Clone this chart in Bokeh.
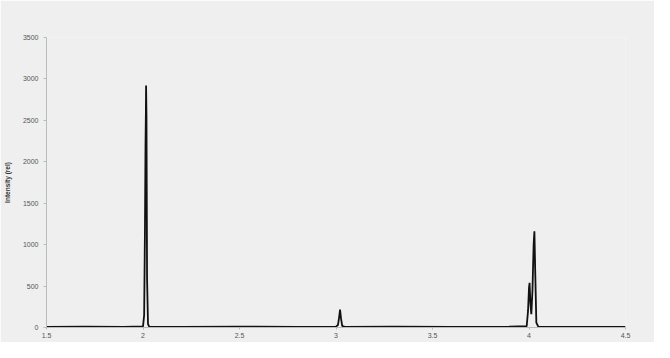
from bokeh.plotting import figure
from bokeh.models import FixedTicker, Range1d, Label
from bokeh.embed import file_html
from bokeh.resources import INLINE

# m/z values and intensities
mz = [1.50, 1.70, 1.90, 2.000, 2.006, 2.010, 2.013, 2.015, 2.016, 2.018, 2.021,
      2.026, 2.032, 2.20, 2.50, 2.80, 3.000, 3.010, 3.016, 3.021, 3.026, 3.032,
      3.045, 3.30, 3.60, 3.90, 3.988, 3.995, 4.000, 4.003, 4.007, 4.012, 4.018,
      4.024, 4.028, 4.032, 4.038, 4.048, 4.20, 4.50]
intensity = [8, 10, 8, 12, 150, 1150, 2200, 2600, 2920, 2550, 600,
             40, 10, 8, 10, 8, 10, 30, 120, 215, 110, 20,
             8, 10, 8, 10, 15, 200, 480, 540, 300, 160, 450,
             1000, 1160, 700, 60, 10, 8, 8]

x_ticks = [1.5, 2.0, 2.5, 3.0, 3.5, 4.0, 4.5]
x_tick_labels = ["1.5", "2", "2.5", "3", "3.5", "4", "4.5"]
y_ticks = [0, 500, 1000, 1500, 2000, 2500, 3000, 3500]
y_tick_labels = ["0", "500", "1000", "1500", "2000", "2500", "3000", "3500"]

BG = "#efefef"
p = figure(width=654, height=342, output_backend="svg", toolbar_location=None,
           x_range=Range1d(1.5, 4.5), y_range=Range1d(0, 3500),
           min_border_left=45, min_border_right=29, min_border_top=37,
           min_border_bottom=15)
p.background_fill_color = BG
p.border_fill_color = BG
p.outline_line_color = None
p.grid.visible = False

p.line(mz, intensity, line_color="#111111", line_width=1.8)

xa = p.xaxis[0]
xa.ticker = FixedTicker(ticks=x_ticks)
xa.major_label_overrides = {t: l for t, l in zip(x_ticks, x_tick_labels)}
xa.axis_line_color = "#bbbbbb"
xa.major_tick_line_color = "#bbbbbb"
xa.major_tick_out = 2
xa.major_tick_in = 0
xa.minor_tick_line_color = None
xa.major_label_text_font_size = "7px"
xa.major_label_text_color = "#555555"
xa.major_label_standoff = 3
xa.axis_label = None

ya = p.yaxis[0]
ya.ticker = FixedTicker(ticks=y_ticks)
ya.major_label_overrides = {t: l for t, l in zip(y_ticks, y_tick_labels)}
ya.axis_line_color = "#bbbbbb"
ya.major_tick_line_color = "#bbbbbb"
ya.major_tick_out = 3
ya.major_tick_in = 0
ya.minor_tick_line_color = None
ya.major_label_text_font_size = "7px"
ya.major_label_text_color = "#555555"
ya.major_label_standoff = 5
ya.axis_label = "Intensity (rel)"
ya.axis_label_text_font_size = "6.5px"
ya.axis_label_text_font_style = "bold"
ya.axis_label_text_color = "#333333"
ya.axis_label_standoff = 9

p.add_layout(Label(x=3.0, y=-1, x_units="data", y_units="screen", text="m/z",
                   text_font_size="6.5px", text_color="#333333",
                   text_align="center", text_baseline="top"))

open("out.html", "w").write(file_html(p, INLINE))
